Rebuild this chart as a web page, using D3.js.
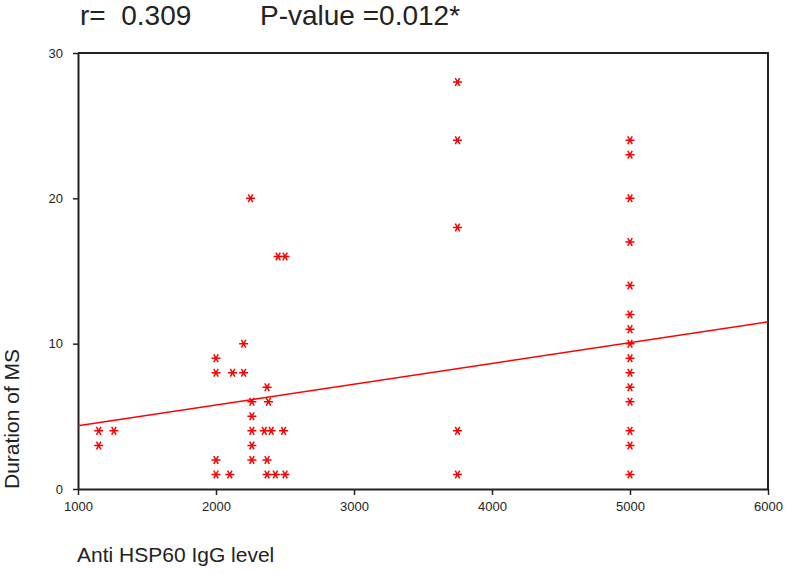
<!DOCTYPE html>
<html>
<head>
<meta charset="utf-8">
<script src="https://cdn.jsdelivr.net/npm/d3@7"></script>
<style>
  html, body { margin: 0; padding: 0; background: #fff; }
  svg { display: block; font-family: "Liberation Sans", Arial, sans-serif; }
</style>
</head>
<body>
<svg id="chart" width="787" height="574"></svg>
<script>
// ---- data ----
const antiHsp60 = [1150, 1260, 1150,
  2000, 2000, 2120, 2200, 2200,
  2250, 2450, 2500,
  2370, 2260, 2380, 2260, 2260, 2350, 2400, 2490, 2260,
  2000, 2260, 2370,
  2000, 2100, 2370, 2430, 2500,
  3750, 3750, 3750, 3750, 3750,
  5000, 5000, 5000, 5000, 5000, 5000, 5000, 5000, 5000, 5000, 5000, 5000, 5000, 5000, 5000];
const durationMS = [4, 4, 3,
  9, 8, 8, 8, 10,
  20, 16, 16,
  7, 6, 6, 5, 4, 4, 4, 4, 3,
  2, 2, 2,
  1, 1, 1, 1, 1,
  28, 24, 18, 4, 1,
  24, 23, 20, 17, 14, 12, 11, 10, 9, 8, 7, 6, 4, 3, 1];
const fitX = [1000, 6000];
const fitY = [4.35, 11.5];
const xTicks = [1000, 2000, 3000, 4000, 5000, 6000];
const yTicks = [0, 10, 20, 30];
const titleR = "r=  0.309";
const titleP = "P-value =0.012*";
const xLabel = "Anti HSP60 IgG level";
const yLabel = "Duration of MS";

// ---- layout ----
const svg = d3.select("#chart");
const L = 78, R = 768, T = 53, B = 489;
const x = d3.scaleLinear().domain([1000, 6000]).range([L, R]);
const y = d3.scaleLinear().domain([0, 30]).range([B, T]);
const red = "#ff0000";
const ink = "#222";

// frame (top & right)
svg.append("path")
  .attr("d", `M${L},${T}H${R}V${B}`)
  .attr("fill", "none").attr("stroke", ink).attr("stroke-width", 2);

// axes
const xAxis = d3.axisBottom(x).tickValues(xTicks).tickFormat(d3.format("d")).tickSize(6).tickPadding(7).tickSizeOuter(0);
const yAxis = d3.axisLeft(y).tickValues(yTicks).tickFormat(d3.format("d")).tickSize(5).tickPadding(10).tickSizeOuter(0);

const gx = svg.append("g").attr("transform", `translate(0,${B})`).call(xAxis);
const gy = svg.append("g").attr("transform", `translate(${L},0)`).call(yAxis);
[gx, gy].forEach(g => {
  g.select(".domain").attr("stroke", ink).attr("stroke-width", 2);
  g.selectAll(".tick line").attr("stroke", ink).attr("stroke-width", 1.5);
  g.selectAll(".tick text").attr("fill", ink)
    .style("font-family", '"Liberation Sans", Arial, sans-serif').style("font-size", "13px");
});

// regression line
const fit = fitX.map((v, i) => [v, fitY[i]]);
svg.append("path")
  .datum(fit)
  .attr("d", d3.line().x(d => x(d[0])).y(d => y(d[1])))
  .attr("fill", "none").attr("stroke", red).attr("stroke-width", 1.6);

// asterisk markers
const r = 4.5;
const a = r * Math.cos(Math.PI / 3), b = r * Math.sin(Math.PI / 3);
const star = `M${-r},0H${r}M${-a},${-b}L${a},${b}M${-a},${b}L${a},${-b}`;
const pts = antiHsp60.map((v, i) => [v, durationMS[i]]);
svg.append("g").selectAll("path")
  .data(pts).join("path")
  .attr("transform", d => `translate(${x(d[0])},${y(d[1])})`)
  .attr("d", star)
  .attr("fill", "none").attr("stroke", red).attr("stroke-width", 1.5);

// texts
svg.append("text").attr("x", 80).attr("y", 25).text(titleR)
  .attr("fill", ink).style("font-size", "28px").style("white-space", "pre");
svg.append("text").attr("x", 260).attr("y", 25).text(titleP)
  .attr("fill", ink).style("font-size", "28px");

svg.append("text").attr("x", 77).attr("y", 562).text(xLabel)
  .attr("fill", ink).style("font-size", "21px");

svg.append("text")
  .attr("transform", `translate(19,489) rotate(-90)`)
  .attr("text-anchor", "start")
  .text(yLabel)
  .attr("fill", ink).style("font-size", "21px");
</script>
</body>
</html>
